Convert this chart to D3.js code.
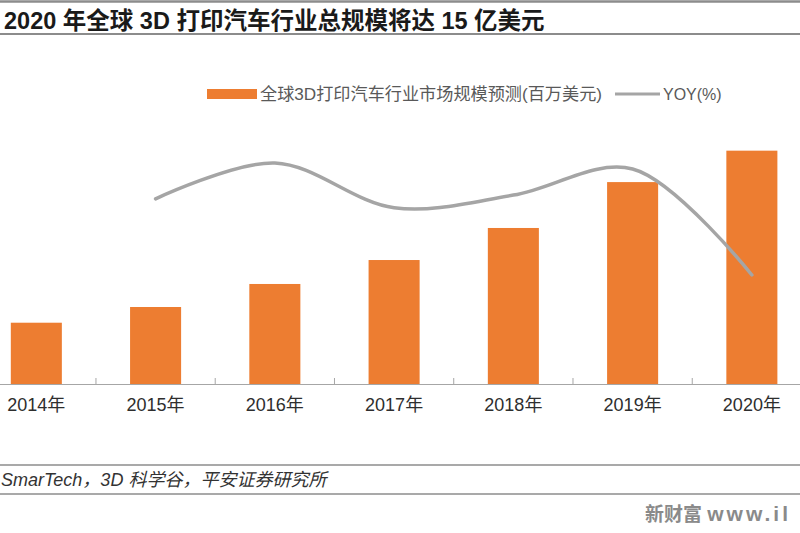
<!DOCTYPE html>
<html>
<head>
<meta charset="utf-8">
<script src="https://d3js.org/d3.v7.min.js"></script>
<style>
  body { margin: 0; padding: 0; background: #fff; }
  svg { display: block; }
  text { font-family: "Liberation Sans", Arial, "Noto Sans CJK SC", sans-serif; }
</style>
</head>
<body>
<svg id="chart" width="800" height="533"></svg>
<script>
  // ---- data ----
  const years = ["2014年", "2015年", "2016年", "2017年", "2018年", "2019年", "2020年"];
  const marketSize = [394, 495, 643, 797, 1003, 1298, 1500];   // 百万美元
  const yoyYears = ["2015年", "2016年", "2017年", "2018年", "2019年", "2020年"];
  const yoy = [24.8, 29.6, 23.6, 25.3, 28.8, 14.6];              // %

  const titleText = "2020 年全球 3D 打印汽车行业总规模将达 15 亿美元";
  const barLegend = "全球3D打印汽车行业市场规模预测(百万美元)";
  const lineLegend = "YOY(%)";
  const sourceText = "SmarTech，3D 科学谷，平安证券研究所";

  const svg = d3.select("#chart");

  // frame lines round title and source
  const rule = (y, w) => svg.append("line")
      .attr("x1", 0).attr("x2", 800).attr("y1", y).attr("y2", y)
      .attr("stroke", "#8c8c8c").attr("stroke-width", w);
  rule(1.5, 2.5);
  rule(34, 2);
  rule(465, 1.5);
  rule(494, 1.5);

  svg.append("text")
      .attr("x", 4).attr("y", 29)
      .attr("font-size", 23.5).attr("font-weight", "bold")
      .attr("fill", "#1a1a1a")
      .text(titleText);

  // ---- scales ----
  const baseY = 384, topY = 104;
  const x = d3.scaleBand()
      .domain(years)
      .range([-23.3, 811.5])
      .paddingInner(0.572)
      .paddingOuter(0.286);
  const y = d3.scaleLinear().domain([0, 1800]).range([baseY, topY]);
  const y2 = d3.scaleLinear().domain([0, 37.5]).range([baseY, topY]);

  // bars
  svg.append("g").selectAll("rect").data(marketSize)
      .join("rect")
      .attr("x", (d, i) => x(years[i]))
      .attr("width", x.bandwidth())
      .attr("y", d => y(d))
      .attr("height", d => baseY - y(d))
      .attr("fill", "#ED7D31");

  // x axis
  const axis = svg.append("g")
      .attr("transform", "translate(0," + baseY + ")")
      .call(d3.axisBottom(x).tickSize(0).tickPadding(14));
  axis.select(".domain").attr("stroke", "#a6a6a6").attr("stroke-width", 1.2);
  axis.selectAll("text")
      .attr("font-size", 18)
      .attr("fill", "#2e2e2e")
      .style("font-family", "\"Liberation Sans Narrow\", \"Liberation Sans\", \"Noto Sans CJK SC\", sans-serif");
  // boundary tick marks between categories
  const step = x.step();
  axis.selectAll("line.sep").data(years.slice(1))
      .join("line")
      .attr("class", "sep")
      .attr("x1", d => x(d) - step * 0.286)
      .attr("x2", d => x(d) - step * 0.286)
      .attr("y1", -6).attr("y2", 0)
      .attr("stroke", "#a6a6a6").attr("stroke-width", 1);

  // yoy line
  const line = d3.line()
      .x((d, i) => x(yoyYears[i]) + x.bandwidth() / 2)
      .y(d => y2(d))
      .curve(d3.curveCatmullRom);
  svg.append("path")
      .datum(yoy)
      .attr("d", line)
      .attr("fill", "none")
      .attr("stroke", "#a5a5a5")
      .attr("stroke-width", 3.5)
      .attr("stroke-linecap", "round");

  // legend
  const lg = svg.append("g");
  lg.append("rect").attr("x", 207).attr("y", 89).attr("width", 50).attr("height", 10).attr("fill", "#ED7D31");
  lg.append("text").attr("x", 260).attr("y", 100)
      .attr("font-size", 17).attr("fill", "#595959")
      .attr("textLength", 342).attr("lengthAdjust", "spacingAndGlyphs")
      .text(barLegend);
  lg.append("line").attr("x1", 615).attr("x2", 660).attr("y1", 94).attr("y2", 94)
      .attr("stroke", "#a5a5a5").attr("stroke-width", 3);
  lg.append("text").attr("x", 663).attr("y", 100)
      .attr("font-size", 16).attr("fill", "#595959")
      .text(lineLegend);

  // source + watermark
  svg.append("text")
      .attr("x", 1).attr("y", 486)
      .attr("font-size", 18).attr("font-style", "italic")
      .attr("fill", "#333")
      .text(sourceText);
  const wm = svg.append("text")
      .attr("x", 645).attr("y", 521)
      .attr("font-size", 19).attr("font-weight", "bold")
      .attr("fill", "#8a8a8a");
  wm.append("tspan").text("新财富 ");
  wm.append("tspan").attr("font-size", 21).attr("letter-spacing", 3).text("www.il");
</script>
</body>
</html>
